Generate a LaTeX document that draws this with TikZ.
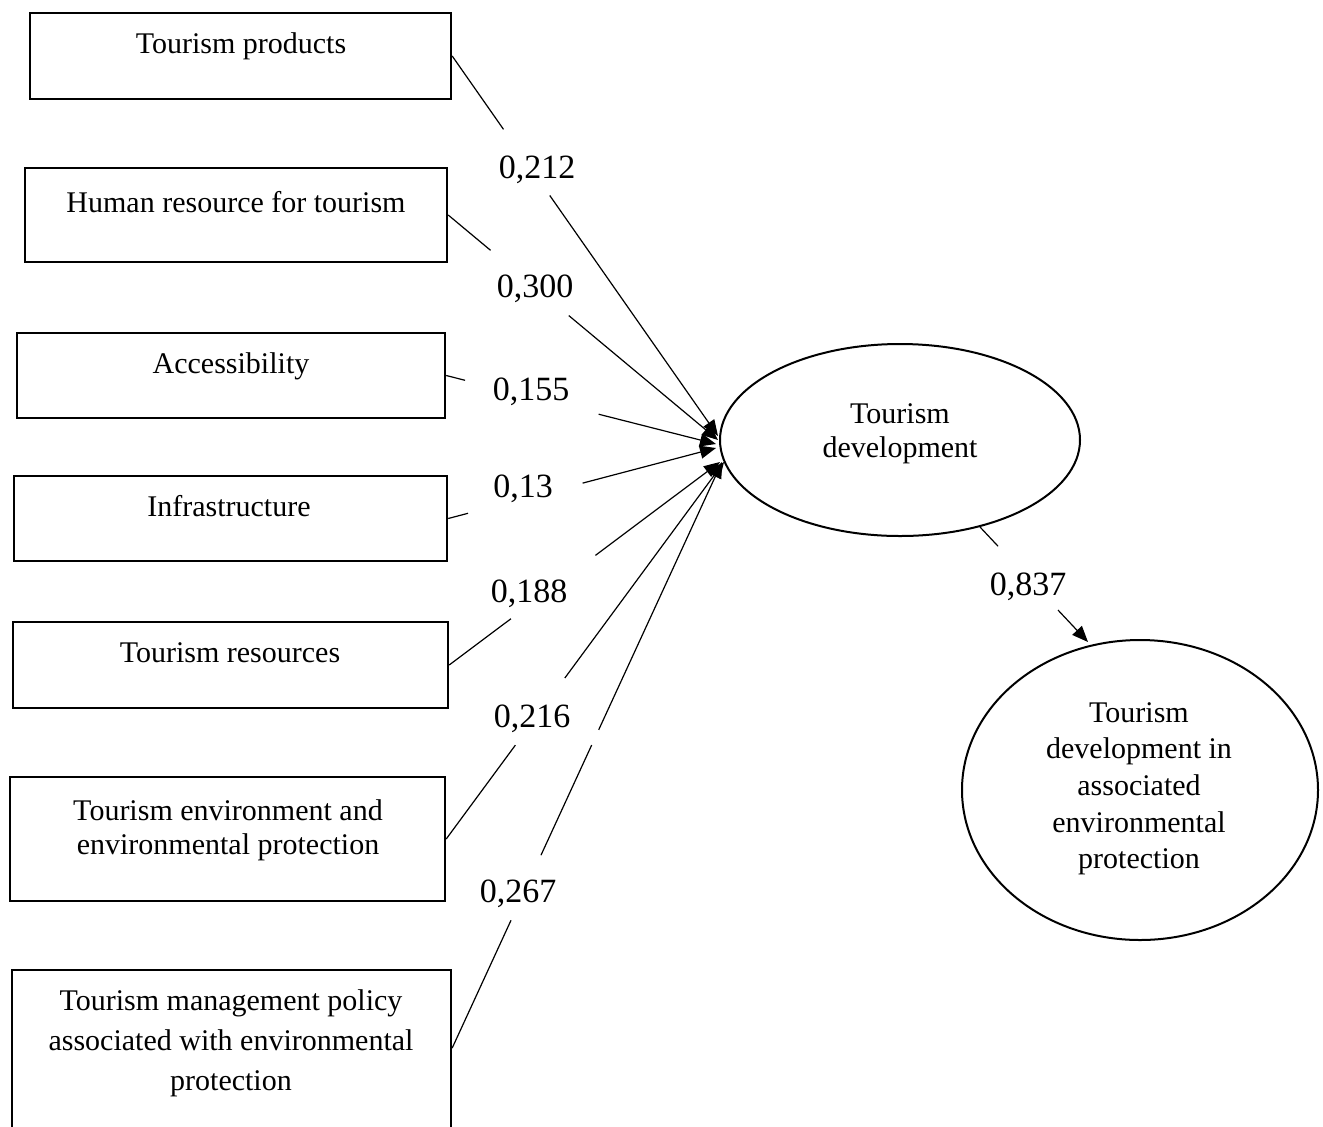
\documentclass[tikz,border=0pt]{standalone}
\usepackage{fontspec}
\setmainfont{Liberation Serif}
\usetikzlibrary{arrows.meta,calc,shapes.geometric}
\begin{document}
\begin{tikzpicture}[x=0.5pt,y=-0.5pt,
  box/.style={draw=black,line width=1.2pt,rectangle,inner sep=0pt},
  boxtext/.style={font=\fontsize{15}{18}\selectfont,anchor=base,inner sep=0pt},
  oval/.style={draw=black,line width=1pt,ellipse,inner sep=0pt},
  coef/.style={font=\fontsize{17}{20}\selectfont,anchor=base,inner sep=0pt},
  link/.style={line width=0.6pt},
  arrowlink/.style={link,-{Triangle[length=8pt,width=6.5pt]}}]
\useasboundingbox (0,0) rectangle (1323,1126);
\clip (0,0) rectangle (1323,1126);

% boxes
\node[box,minimum width=210.5pt,minimum height=43pt] (b1) at (240.5,56) {};
\node[box,minimum width=211pt,minimum height=47pt] (b2) at (236,215) {};
\node[box,minimum width=214pt,minimum height=42.5pt] (b3) at (231,375.5) {};
\node[box,minimum width=216.5pt,minimum height=42.5pt] (b4) at (230.5,518.5) {};
\node[box,minimum width=217.5pt,minimum height=43pt] (b5) at (230.5,665) {};
\node[box,minimum width=217.5pt,minimum height=62pt] (b6) at (227.5,839) {};
\node[box,minimum width=219.5pt,minimum height=82pt] (b7) at (231.5,1052) {};

\node[boxtext] (b1t) at (241,53) {Tourism products};
\node[boxtext] (b2t) at (236,212) {Human resource for tourism};
\node[boxtext] (b3t) at (231,373) {Accessibility};
\node[boxtext] (b4t) at (229,516) {Infrastructure};
\node[boxtext] (b5t) at (230,662) {Tourism resources};
\node[boxtext] (b6ta) at (228,820) {Tourism environment and};
\node[boxtext] (b6tb) at (228,854) {environmental protection};
\node[boxtext] (b7ta) at (231,1010) {Tourism management policy};
\node[boxtext] (b7tb) at (231,1050) {associated with environmental};
\node[boxtext] (b7tc) at (231,1090) {protection};

% ellipses
\node[oval,minimum width=180pt,minimum height=96pt] (td) at (900,440) {};
\node[boxtext] (tdta) at (900,423) {Tourism};
\node[boxtext] (tdtb) at (900,457) {development};

\node[oval,minimum width=178pt,minimum height=150pt] (te) at (1140,790) {};
\node[boxtext] (teta) at (1139,722) {Tourism};
\node[boxtext] (tetb) at (1139,758) {development in};
\node[boxtext] (tetc) at (1139,795) {associated};
\node[boxtext] (tetd) at (1139,832) {environmental};
\node[boxtext] (tete) at (1139,868) {protection};

% end points on the ellipse
\coordinate (e1) at (718,436);
\coordinate (e2) at (718,440);
\coordinate (e3) at (716,444);
\coordinate (e4) at (716,448);
\coordinate (e5) at (720,462);
\coordinate (e6) at (724,462);
\coordinate (e7) at (722,462);
\coordinate (s7) at ([yshift=2pt]b7.east);
\coordinate (s8) at (980,527);
\coordinate (e8) at (1088,642);

% connectors
\draw[arrowlink] (b1.east) -- ($(b1.east)!0.193!(e1)$) ($(b1.east)!0.367!(e1)$) -- (e1);
\draw[arrowlink] (b2.east) -- ($(b2.east)!0.157!(e2)$) ($(b2.east)!0.447!(e2)$) -- (e2);
\draw[arrowlink] (b3.east) -- ($(b3.east)!0.070!(e3)$) ($(b3.east)!0.565!(e3)$) -- (e3);
\draw[arrowlink] (b4.east) -- ($(b4.east)!0.074!(e4)$) ($(b4.east)!0.502!(e4)$) -- (e4);
\draw[arrowlink] (b5.east) -- ($(b5.east)!0.228!(e5)$) ($(b5.east)!0.540!(e5)$) -- (e5);
\draw[arrowlink] (b6.east) -- ($(b6.east)!0.249!(e6)$) ($(b6.east)!0.427!(e6)$) -- (e6);
\draw[arrowlink] (s7) -- ($(s7)!0.218!(e7)$) ($(s7)!0.329!(e7)$) -- ($(s7)!0.517!(e7)$) ($(s7)!0.543!(e7)$) -- (e7);
\draw[arrowlink] (s8) -- ($(s8)!0.167!(e8)$) ($(s8)!0.722!(e8)$) -- (e8);

% coefficients
\node[coef] (c1) at (537,178) {0,212};
\node[coef] (c2) at (535,297) {0,300};
\node[coef] (c3) at (531,400) {0,155};
\node[coef] (c4) at (523,497) {0,13};
\node[coef] (c5) at (529,602) {0,188};
\node[coef] (c6) at (532,727) {0,216};
\node[coef] (c7) at (518,902) {0,267};
\node[coef] (c8) at (1028,595) {0,837};
\end{tikzpicture}
\end{document}
